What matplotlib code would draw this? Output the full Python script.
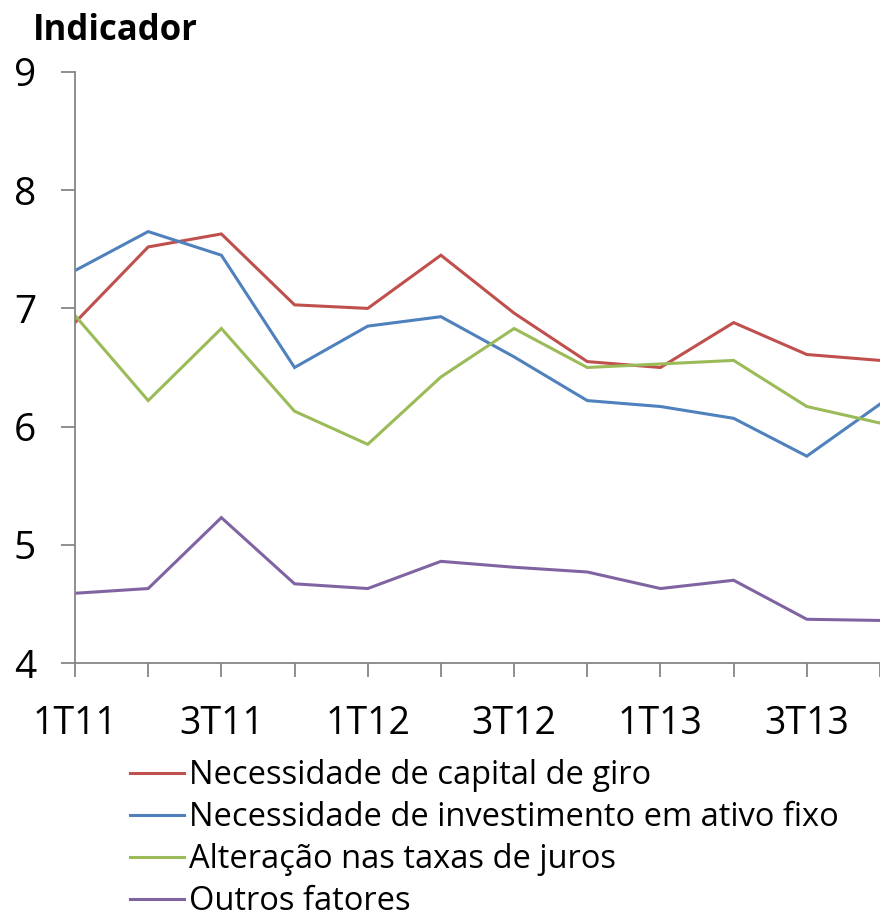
import numpy as np
import matplotlib.pyplot as plt

plt.rcParams['font.family'] = ['Open Sans', 'DejaVu Sans']

# quarters
quarters = ['1T11', '2T11', '3T11', '4T11', '1T12', '2T12',
            '3T12', '4T12', '1T13', '2T13', '3T13', '4T13']

capital_giro = [6.88, 7.52, 7.63, 7.03, 7.00, 7.45, 6.96, 6.55, 6.50, 6.88, 6.61, 6.56]
ativo_fixo = [7.32, 7.65, 7.45, 6.50, 6.85, 6.93, 6.59, 6.22, 6.17, 6.07, 5.75, 6.19]
taxas_juros = [6.94, 6.22, 6.83, 6.13, 5.85, 6.42, 6.83, 6.50, 6.53, 6.56, 6.17, 6.03]
outros = [4.59, 4.63, 5.23, 4.67, 4.63, 4.86, 4.81, 4.77, 4.63, 4.70, 4.37, 4.36]

series = [
    ('Necessidade de capital de giro', capital_giro, '#C0504D'),
    ('Necessidade de investimento em ativo fixo', ativo_fixo, '#4F81BD'),
    ('Alteração nas taxas de juros', taxas_juros, '#9BBB59'),
    ('Outros fatores', outros, '#8064A2'),
]

fig = plt.figure(figsize=(8.8, 9.19), dpi=100)
ax = fig.add_axes([75 / 880, 1 - 663 / 919, 1 - 75 / 880, (663 - 72) / 919])

x = np.arange(len(quarters))
for name, vals, col in series:
    ax.plot(x, vals, color=col, lw=2.2, label=name, solid_joinstyle='miter')

ax.set_xlim(0, 11)
ax.set_ylim(4, 9)
ax.set_yticks([4, 5, 6, 7, 8, 9])
ax.set_xticks(x)
ax.set_xticklabels([q if i % 2 == 0 else '' for i, q in enumerate(quarters)])

for s in ['top', 'right']:
    ax.spines[s].set_visible(False)
for s in ['left', 'bottom']:
    ax.spines[s].set_color('#868686')
    ax.spines[s].set_linewidth(1.3)
ax.tick_params(axis='both', colors='#868686', labelcolor='black', length=10, width=1.3,
               labelsize=27)
ax.tick_params(axis='y', pad=18, labelsize=28)
ax.tick_params(axis='x', pad=20)

fig.text(33 / 880, 1 - 31 / 919, 'Indicador', fontsize=25, fontweight='bold', va='center')

fig.legend(loc='upper left', bbox_to_anchor=(130 / 880, 1 - 759 / 919), frameon=False,
           fontsize=23.5, handlelength=1.65, handletextpad=0.15, labelspacing=0.28,
           borderaxespad=0, borderpad=0)

fig.savefig('out.png', dpi=100)
